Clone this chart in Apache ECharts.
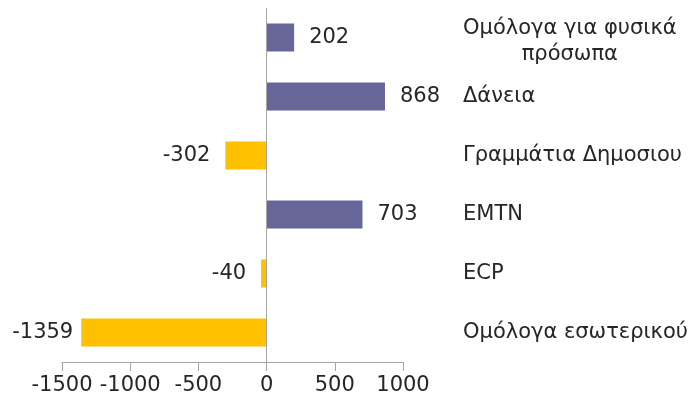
<!DOCTYPE html>
<html>
<head>
<meta charset="utf-8">
<script src="https://cdn.jsdelivr.net/npm/echarts@6/dist/echarts.min.js"></script>
<style>
html,body{margin:0;padding:0;background:#fff;}
#chart{width:691px;height:403px;}
</style>
</head>
<body>
<div id="chart"></div>
<script>
const categories = ["Ομόλογα για φυσικά\nπρόσωπα", "Δάνεια", "Γραμμάτια Δημοσιου", "EMTN", "ECP", "Ομόλογα εσωτερικού"];
const values = [202, 868, -302, 703, -40, -1359];
const xTicks = [-1500, -1000, -500, 0, 500, 1000];

const FONT = "DejaVu Sans";
const FS = 21;
const TXT = "#262626";
const POS = "#666699";
const NEG = "#FFC000";

const chart = echarts.init(document.getElementById('chart'), null, {renderer: 'canvas'});
chart.setOption({
  animation: false,
  backgroundColor: '#fff',
  grid: {left: 62, right: 287, top: 8, bottom: 41, containLabel: false},
  xAxis: {
    type: 'value',
    min: xTicks[0],
    max: xTicks[xTicks.length - 1],
    interval: 500,
    axisLine: {show: true, lineStyle: {color: '#A6A6A6', width: 1}},
    axisTick: {show: true, length: 9, lineStyle: {color: '#A6A6A6'}},
    splitLine: {show: false},
    axisLabel: {fontFamily: FONT, fontSize: FS, color: TXT, margin: 13, formatter: v => String(v)}
  },
  yAxis: {
    type: 'category',
    data: categories.map(c => c.indexOf('\n') >= 0
      ? {value: c, textStyle: {padding: [8, 0, 0, 0]}}
      : c),
    inverse: true,
    position: 'right',
    axisLine: {show: false},
    axisTick: {show: false},
    axisLabel: {
      margin: 60,
      align: 'left',
      fontFamily: FONT, fontSize: FS, color: TXT,
      formatter: function (v) {
        return v.split('\n').map(s => '{c|' + s + '}').join('\n');
      },
      rich: {c: {align: 'center', fontFamily: FONT, fontSize: FS, color: TXT, lineHeight: 26}}
    }
  },
  series: [{
    type: 'bar',
    data: values.map(v => ({
      value: v,
      label: {position: v < 0 ? 'left' : 'right', distance: v < -1000 ? 8 : 15}
    })),
    barWidth: 28,
    itemStyle: {color: p => p.value < 0 ? NEG : POS},
    label: {
      show: true,
      fontFamily: FONT, fontSize: FS, color: TXT,
      distance: 15
    },
    markLine: {
      silent: true,
      symbol: 'none',
      label: {show: false},
      lineStyle: {color: '#A6A6A6', type: 'solid', width: 1},
      data: [{xAxis: 0}]
    }
  }]
});
</script>
</body>
</html>
